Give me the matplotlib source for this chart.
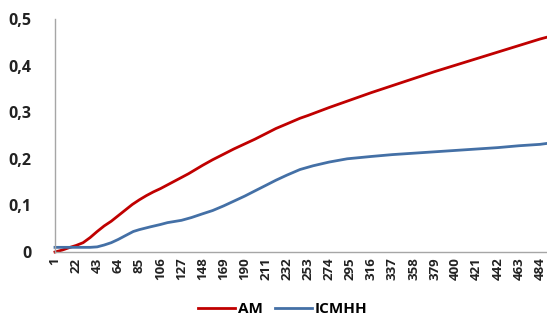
import matplotlib
matplotlib.use('Agg')
from matplotlib import pyplot as plt

plt.rcParams['font.family'] = ['Open Sans', 'DejaVu Sans']

# values (category index -> value)
am_x = [1, 8, 16, 22, 29, 36, 43, 50, 57, 64, 71, 78, 85, 92, 99, 106, 113, 120,
        127, 134, 141, 148, 158, 169, 179, 190, 200, 211, 221, 232, 245, 253,
        274, 295, 316, 337, 358, 379, 400, 421, 442, 463, 484, 491]
am_y = [0.000, 0.004, 0.010, 0.014, 0.020, 0.031, 0.044, 0.056, 0.066, 0.078,
        0.090, 0.102, 0.112, 0.121, 0.129, 0.136, 0.144, 0.152, 0.160, 0.168,
        0.177, 0.186, 0.198, 0.210, 0.221, 0.232, 0.242, 0.254, 0.265, 0.275,
        0.287, 0.293, 0.310, 0.326, 0.342, 0.357, 0.372, 0.387, 0.401, 0.415,
        0.429, 0.443, 0.457, 0.461]

icm_x = [1, 22, 36, 43, 50, 57, 64, 71, 79, 85, 96, 106, 113, 127, 137, 148,
         158, 169, 179, 190, 200, 211, 221, 232, 245, 258, 274, 292, 316, 337,
         358, 379, 400, 421, 442, 463, 484, 491]
icm_y = [0.010, 0.010, 0.010, 0.011, 0.015, 0.020, 0.027, 0.035, 0.044, 0.048,
         0.054, 0.059, 0.063, 0.068, 0.074, 0.082, 0.089, 0.099, 0.109, 0.120,
         0.131, 0.143, 0.154, 0.165, 0.177, 0.185, 0.193, 0.200, 0.205, 0.209,
         0.212, 0.215, 0.218, 0.221, 0.224, 0.228, 0.231, 0.233]

x_ticks = list(range(1, 485, 21))
y_ticks = [0, 0.1, 0.2, 0.3, 0.4, 0.5]
y_labels = ['0', '0,1', '0,2', '0,3', '0,4', '0,5']

fig = plt.figure(figsize=(5.47, 3.22), dpi=100)
ax = fig.add_axes([55 / 547, 1 - 252 / 322, 492 / 547, 233 / 322])

ax.plot(am_x, am_y, color='#C00000', lw=2.0, label='AM', clip_on=False)
ax.plot(icm_x, icm_y, color='#4470A6', lw=2.0, label='ICMHH', clip_on=False)

ax.set_xlim(1, 491)
ax.set_ylim(0, 0.5)

ax.set_xticks(x_ticks)
ax.set_xticklabels([str(t) for t in x_ticks], rotation=90, fontsize=9.5,
                   fontweight='bold', color='#222222')
ax.set_yticks(y_ticks)
ax.set_yticklabels(y_labels, fontsize=11.5, fontweight='bold', color='#222222')
ax.tick_params(axis='both', length=0)
ax.tick_params(axis='y', pad=17)
ax.tick_params(axis='x', pad=4)

for side in ['top', 'right']:
    ax.spines[side].set_visible(False)
for side in ['left', 'bottom']:
    ax.spines[side].set_color('#A6A6A6')
    ax.spines[side].set_linewidth(1.0)

fig.legend(loc='center', bbox_to_anchor=(283 / 547, 1 - 309 / 322), ncol=2,
           frameon=False, handlelength=2.4, handletextpad=0.2, columnspacing=0.8,
           prop={'weight': 'bold', 'size': 11})

fig.savefig('out.png', dpi=100)
